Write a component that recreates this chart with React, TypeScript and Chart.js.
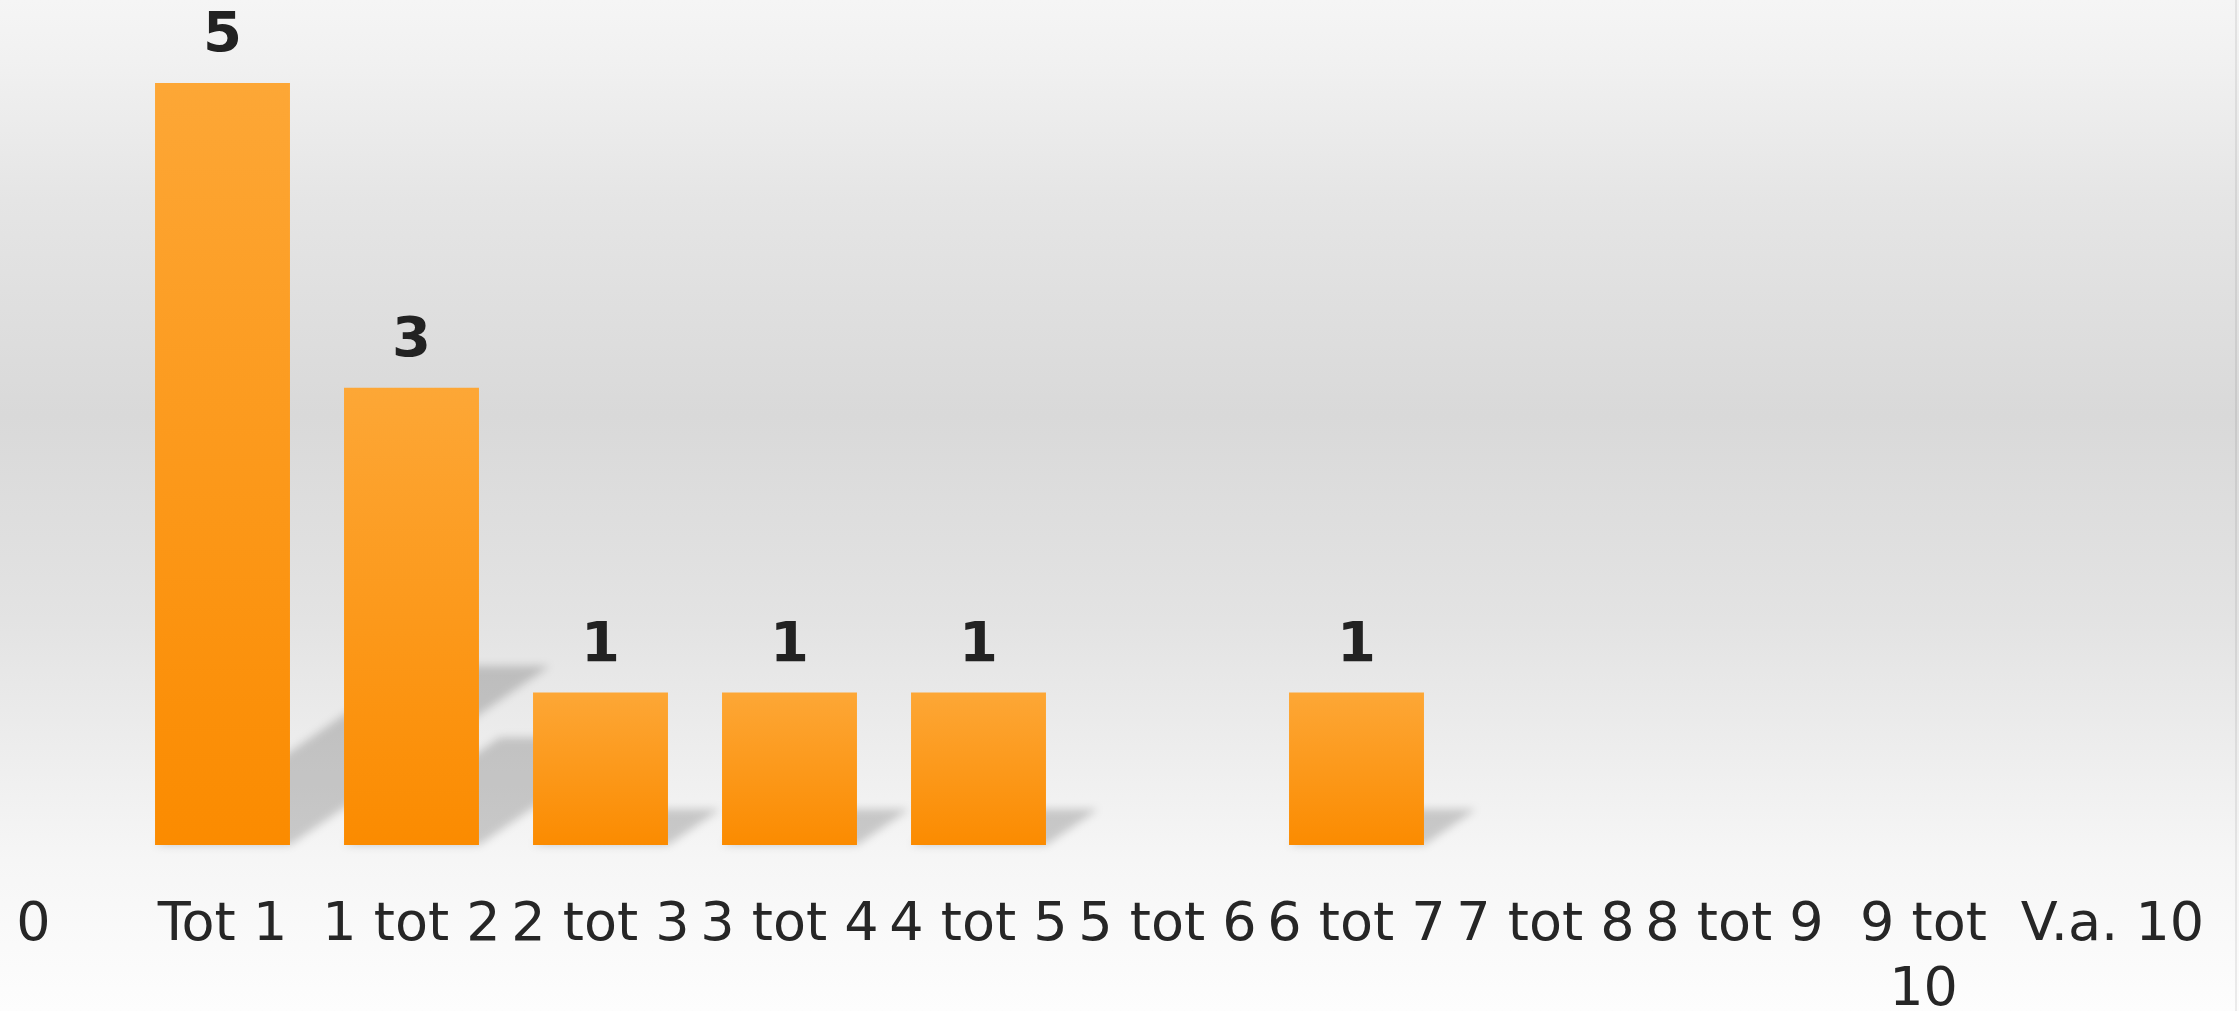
import React, { useEffect, useRef } from 'react';
import { Chart, registerables } from 'chart.js';

Chart.register(...registerables);

// ---- data ----
const categories: (string | string[])[] = [
  '0', 'Tot 1', '1 tot 2', '2 tot 3', '3 tot 4', '4 tot 5',
  '5 tot 6', '6 tot 7', '7 tot 8', '8 tot 9', ['9 tot', '10'], 'V.a. 10',
];
const values: number[] = [0, 5, 3, 1, 1, 1, 0, 1, 0, 0, 0, 0];
const yMin = 0;
const yMax = 5;

const FONT = "'DejaVu Sans', Verdana, sans-serif";

const shadowPlugin = {
  id: 'barShadow',
  beforeDatasetsDraw(chart: any) {
    const ctx = chart.ctx;
    const meta = chart.getDatasetMeta(0);
    ctx.save();
    ctx.filter = 'blur(4px)';
    ctx.fillStyle = 'rgba(0,0,0,0.18)';
    meta.data.forEach((el: any, i: number) => {
      if (!values[i]) return;
      const L = el.x - el.width / 2;
      const R = el.x + el.width / 2;
      const base = el.base;
      const h = base - el.y;
      const kh = h * 0.235;
      const dx = kh * 1.45;
      ctx.beginPath();
      ctx.moveTo(L, base);
      ctx.lineTo(R, base);
      ctx.lineTo(R + dx, base - kh);
      ctx.lineTo(L + dx, base - kh);
      ctx.closePath();
      ctx.fill();
    });
    ctx.restore();
  },
};

const valueLabelPlugin = {
  id: 'valueLabels',
  afterDatasetsDraw(chart: any) {
    const ctx = chart.ctx;
    const meta = chart.getDatasetMeta(0);
    ctx.save();
    ctx.font = `bold 56px ${FONT}`;
    ctx.fillStyle = '#222222';
    ctx.textAlign = 'center';
    ctx.textBaseline = 'alphabetic';
    meta.data.forEach((el: any, i: number) => {
      if (!values[i]) return;
      ctx.fillText(String(values[i]), el.x, el.y - 32);
    });
    ctx.restore();
  },
};

export default function App() {
  const ref = useRef<HTMLCanvasElement | null>(null);

  useEffect(() => {
    if (!ref.current) return;
    const chart = new Chart(ref.current, {
      type: 'bar',
      data: {
        labels: categories,
        datasets: [
          {
            data: values,
            backgroundColor: (c: any) => {
              const ch = c.chart;
              const ys = ch.scales && ch.scales.y;
              if (!ys || c.dataIndex === undefined) return '#fc9a1c';
              const top = ys.getPixelForValue(values[c.dataIndex]);
              const bot = ys.getPixelForValue(0);
              if (!isFinite(top) || !isFinite(bot) || top === bot) return '#fc9a1c';
              const g = ch.ctx.createLinearGradient(0, top, 0, bot);
              g.addColorStop(0, '#fda736');
              g.addColorStop(1, '#fb8b00');
              return g;
            },
            borderWidth: 0,
            categoryPercentage: 1,
            barPercentage: 0.714,
          },
        ],
      },
      options: {
        responsive: false,
        animation: false,
        layout: { padding: { top: 83, left: 0, right: 0, bottom: 0 } },
        plugins: {
          legend: { display: false },
          tooltip: { enabled: false },
          title: { display: false },
        },
        scales: {
          x: {
            offset: true,
            grid: { display: false, drawTicks: false },
            border: { display: false },
            ticks: {
              color: '#262626',
              font: { family: FONT, size: 54, lineHeight: 1.2 },
              padding: 49,
              maxRotation: 0,
              minRotation: 0,
              autoSkip: false,
            },
            afterFit: (s: any) => {
              s.height = 166;
              s.paddingLeft = 0;
              s.paddingRight = 0;
            },
          },
          y: {
            display: false,
            min: yMin,
            max: yMax,
          },
        },
      },
      plugins: [shadowPlugin, valueLabelPlugin],
    } as any);
    return () => chart.destroy();
  }, []);

  return (
    <div
      style={{
        position: 'fixed',
        left: 0,
        top: 0,
        width: 2239,
        height: 1011,
        overflow: 'hidden',
        background:
          'linear-gradient(to bottom, #f5f5f5 0px, #f1f1f1 60px, #e5e5e5 200px, #d9d9d9 415px, #e3e3e3 620px, #eeeeee 760px, #f6f6f6 860px, #fdfdfd 1011px)',
      }}
    >
      <canvas
        ref={ref}
        width={2268}
        height={1011}
        style={{ position: 'absolute', left: -61, top: 0, width: 2268, height: 1011 }}
      />
      <div
        style={{
          position: 'absolute',
          left: 2235,
          top: 0,
          width: 2,
          height: 1011,
          background: 'rgba(0,0,0,0.07)',
        }}
      />
    </div>
  );
}
